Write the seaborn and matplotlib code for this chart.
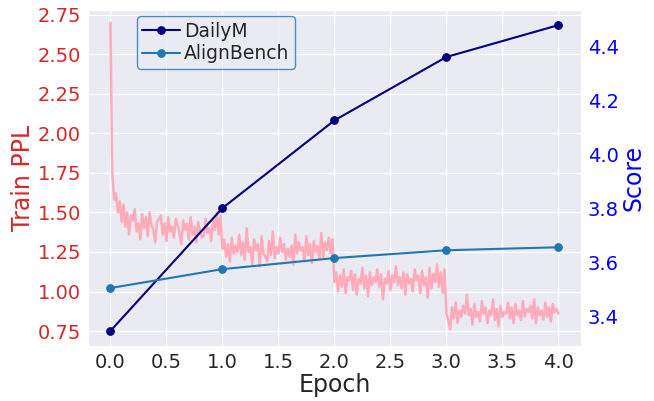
import numpy as np
import pandas as pd
import matplotlib
matplotlib.use("Agg")
import matplotlib.pyplot as plt
import seaborn as sns

# Score per epoch (right axis)
epochs = [0, 1, 2, 3, 4]
dailym = [3.345, 3.80, 4.125, 4.36, 4.478]
alignbench = [3.504, 3.574, 3.615, 3.644, 3.655]

# Train PPL, one list per epoch
ppl_e0 = [2.70, 1.75, 1.58, 1.62, 1.50, 1.57, 1.44, 1.55, 1.41, 1.50, 1.36, 1.48, 1.45, 1.52, 1.38,
          1.43, 1.33, 1.49, 1.40, 1.47, 1.35, 1.50, 1.42, 1.39, 1.31, 1.44, 1.46, 1.48, 1.36, 1.43,
          1.32, 1.47, 1.38, 1.41, 1.34, 1.46, 1.42, 1.37, 1.30, 1.45, 1.39, 1.43, 1.33, 1.47, 1.36,
          1.41, 1.31, 1.44, 1.38, 1.34, 1.35, 1.46, 1.37, 1.40, 1.32, 1.45, 1.39, 1.50, 1.36, 1.48]
ppl_e1 = [1.27, 1.33, 1.22, 1.30, 1.19, 1.34, 1.24, 1.29, 1.25, 1.36, 1.23, 1.31, 1.20, 1.40, 1.25,
          1.28, 1.17, 1.33, 1.26, 1.30, 1.16, 1.35, 1.24, 1.22, 1.19, 1.32, 1.23, 1.38, 1.21, 1.28,
          1.24, 1.34, 1.25, 1.30, 1.20, 1.27, 1.22, 1.29, 1.17, 1.36, 1.24, 1.31, 1.26, 1.28, 1.19,
          1.35, 1.23, 1.30, 1.18, 1.32, 1.25, 1.29, 1.20, 1.37, 1.22, 1.31, 1.26, 1.34, 1.24, 1.33]
ppl_e2 = [1.06, 1.12, 1.00, 1.10, 1.03, 1.14, 0.99, 1.09, 1.07, 1.13, 1.01, 1.11, 0.98, 1.08, 1.05,
          1.15, 1.02, 1.10, 0.97, 1.12, 1.04, 1.09, 1.06, 1.14, 1.03, 1.11, 0.95, 1.08, 1.05, 1.13,
          1.01, 1.10, 1.06, 1.16, 1.04, 1.09, 1.02, 1.12, 0.98, 1.11, 1.05, 1.08, 1.00, 1.14, 1.07,
          1.10, 0.99, 1.13, 1.04, 1.09, 0.96, 1.15, 1.02, 1.11, 1.06, 1.17, 1.03, 1.12, 0.99, 1.14]
ppl_e3 = [0.86, 0.82, 0.76, 0.90, 0.83, 0.93, 0.80, 0.88, 0.84, 0.91, 0.86, 0.98, 0.85, 0.89, 0.79,
          0.92, 0.84, 0.87, 0.81, 0.94, 0.86, 0.90, 0.80, 0.88, 0.85, 0.95, 0.82, 0.89, 0.78, 0.91,
          0.84, 0.87, 0.86, 0.93, 0.83, 0.90, 0.80, 0.92, 0.85, 0.88, 0.82, 0.94, 0.84, 0.89, 0.87,
          0.91, 0.83, 0.95, 0.80, 0.90, 0.85, 0.88, 0.82, 0.93, 0.84, 0.90, 0.81, 0.92, 0.87, 0.89, 0.86]

segs = [ppl_e0, ppl_e1, ppl_e2, ppl_e3]
steps, ppl = [], []
for i, seg in enumerate(segs):
    if i < len(segs) - 1:
        x = i + np.arange(len(seg)) / len(seg)
    else:
        x = np.linspace(i, i + 1, len(seg))
    steps.extend(x)
    ppl.extend(seg)
train = pd.DataFrame({"Epoch": steps, "PPL": ppl})

sns.set_style("darkgrid")
plt.rcParams["font.family"] = ["DejaVu Sans"]

fig, ax = plt.subplots(figsize=(6.54, 4.01), dpi=100)
fig.subplots_adjust(left=0.1346, right=0.888, top=0.975, bottom=0.137)

sns.lineplot(data=train, x="Epoch", y="PPL", color="#ffabb9", linewidth=1.8,
             estimator=None, ax=ax)
ax.set_ylim(0.655, 2.78)
ax.set_yticks(np.arange(0.75, 2.76, 0.25))
ax.set_xticks(np.arange(0, 4.01, 0.5))
ax.set_xlim(-0.2, 4.2)
ax.set_xlabel("Epoch", fontsize=17, labelpad=1)
ax.set_ylabel("Train PPL", fontsize=17, color="tab:red", labelpad=2)
ax.tick_params(axis="both", length=0, pad=5)
ax.tick_params(axis="y", labelcolor="tab:red", labelsize=14)
ax.tick_params(axis="x", labelsize=14)

ax2 = ax.twinx()
sns.lineplot(x=epochs, y=dailym, marker="o", color="navy", markersize=5.5,
             markeredgecolor="navy", linewidth=1.5, label="DailyM", ax=ax2)
sns.lineplot(x=epochs, y=alignbench, marker="o", color="tab:blue", markersize=5.5,
             markeredgecolor="tab:blue", linewidth=1.5, label="AlignBench", ax=ax2)
ax2.grid(False)
ax2.set_ylabel("Score", fontsize=17, color="blue", labelpad=2)
ax2.tick_params(axis="y", labelcolor="blue", labelsize=14, length=0, pad=5)
ax2.set_yticks([3.4, 3.6, 3.8, 4.0, 4.2, 4.4])
ax2.set_ylim(3.289, 4.534)
ax2.set_xlim(-0.2, 4.2)
for s in ax2.spines.values():
    s.set_visible(False)

leg = ax2.legend(loc="upper left", bbox_to_anchor=(0.08, 1.01), fontsize=13.5,
                 edgecolor="tab:blue", handlelength=2, borderpad=0.3,
                 labelspacing=0.2, handletextpad=0.2)

fig.savefig("out.png", dpi=100)
